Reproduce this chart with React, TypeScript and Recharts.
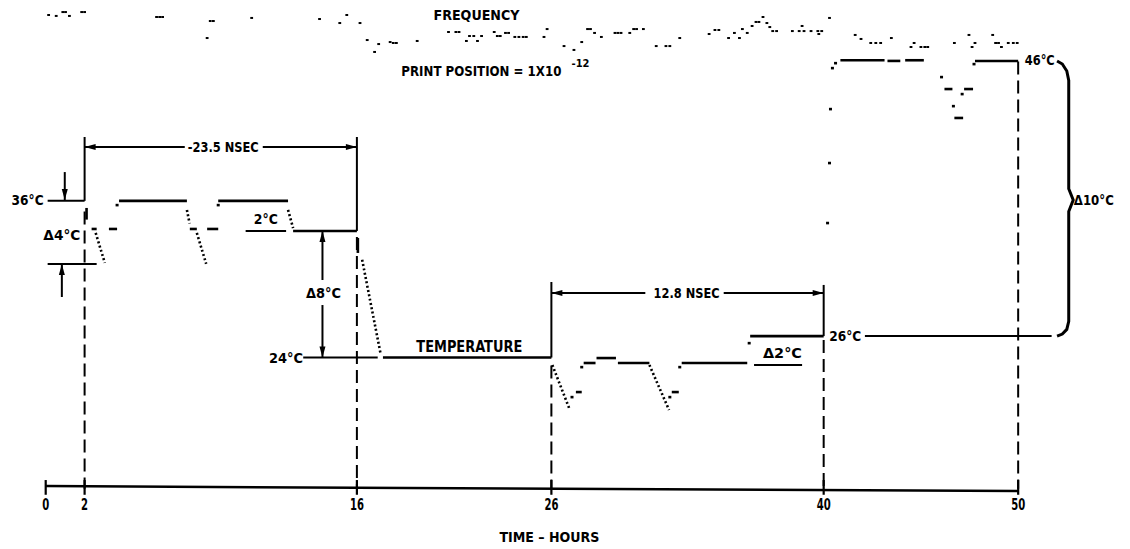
import React from 'react';
import { ComposedChart, XAxis, YAxis, ReferenceLine, Scatter, Line } from 'recharts';

// ---------- data (time in hours, level in °C as drawn) ----------
const tickHours = [0, 2, 16, 26, 40, 50];
const tickLabels = ['0', '2', '16', '26', '40', '50'];

// temperature trace: solid plateaus / dashes  [t0, T0, t1, T1]
const tempSolid: number[][] = [
  [2.1, 35.47, 2.1, 34.6],
  [2.36, 33.9, 2.62, 33.9],
  [3.25, 33.9, 3.67, 33.9],
  [3.77, 36.0, 7.26, 36.0],
  [7.41, 33.9, 7.77, 33.9],
  [8.3, 33.9, 8.87, 33.9],
  [8.87, 36.0, 12.46, 36.0],
  [12.72, 33.75, 16.0, 33.75],
  [16.05, 33.23, 16.05, 32.11],
  [17.34, 24.3, 26.0, 24.3],
  [27.26, 21.72, 27.56, 21.72],
  [27.66, 23.89, 28.27, 23.89],
  [28.32, 24.26, 29.32, 24.26],
  [29.42, 23.89, 31.04, 23.89],
  [32.19, 21.72, 32.55, 21.72],
  [32.7, 23.89, 36.07, 23.89],
  [36.22, 25.9, 40.0, 25.9],
  [40.86, 46.5, 43.13, 46.5],
  [43.28, 46.45, 43.94, 46.45],
  [44.19, 46.5, 45.15, 46.5],
  [46.21, 44.35, 46.62, 44.35],
  [47.22, 44.35, 47.68, 44.35],
  [46.72, 42.19, 47.17, 42.19],
  [47.78, 46.45, 50.0, 46.45],
];

// temperature trace: dotted transitions [t0, T0, t1, T1]
const tempDotted: number[][] = [
  [2.57, 33.6, 3.04, 31.36],
  [7.26, 35.32, 7.4, 34.3],
  [7.77, 33.6, 8.25, 31.3],
  [12.46, 35.32, 12.72, 33.97],
  [16.27, 31.6, 17.23, 24.5],
  [26.05, 23.74, 26.91, 20.53],
  [31.04, 23.74, 32.05, 20.38],
];

// temperature trace: isolated print dots [t, T]
const tempDots: number[][] = [
  [3.67, 35.69], [8.87, 35.69], [27.06, 21.35], [27.56, 23.59], [32.09, 21.35],
  [32.6, 23.59], [36.17, 25.38], [40.2, 34.35], [40.3, 38.83], [40.35, 42.86],
  [40.45, 45.92], [40.61, 46.29], [46.06, 45.25], [47.12, 43.98], [46.67, 43.08],
  [47.73, 46.22],
];

// frequency trace print dots [t, level]
const freqDots: number[][] = [
  [0.15, 49.88], [0.54, 49.81], [0.88, 50.1], [1.02, 50.1], [1.22, 49.81], [1.85, 50.1], [2.0, 50.1],
  [5.7, 49.73], [5.86, 49.73], [6.01, 49.73], [8.3, 48.16], [8.46, 49.43], [8.62, 49.43],
  [10.59, 49.66], [14.08, 49.58], [15.12, 49.28], [15.48, 49.88], [16.16, 49.28], [16.53, 48.01],
  [16.91, 47.12], [17.12, 47.71], [17.71, 47.86], [17.87, 47.79], [18.03, 47.79], [19.1, 47.94],
  [20.71, 48.61], [21.09, 48.61], [21.25, 48.61], [21.63, 47.94], [21.79, 48.31], [22.01, 48.31],
  [22.2, 47.94], [22.41, 48.31], [23.06, 48.61], [23.22, 48.31], [23.37, 48.31], [23.64, 48.54],
  [23.8, 48.54], [24.12, 48.24], [24.33, 48.24], [24.55, 48.24], [24.71, 48.24], [25.62, 48.24],
  [25.78, 48.83], [26.65, 47.56], [27.16, 47.27], [27.56, 47.86], [27.86, 48.83], [28.01, 48.83],
  [28.22, 48.54], [28.57, 48.24], [29.27, 48.54], [29.42, 48.54], [29.58, 48.54], [30.03, 48.54],
  [30.23, 48.83], [30.38, 48.83], [30.73, 48.83], [31.39, 47.56], [31.89, 47.56], [32.09, 47.56],
  [32.6, 48.16], [34.11, 48.46], [34.41, 48.76], [34.61, 48.76], [35.11, 48.16], [35.41, 48.54],
  [35.67, 48.16], [35.82, 48.83], [36.07, 48.54], [36.32, 49.06], [36.52, 49.36], [36.67, 49.36],
  [36.88, 49.73], [37.08, 49.28], [37.23, 48.98], [37.38, 48.68], [37.58, 48.68], [38.39, 48.68],
  [38.74, 48.68], [38.89, 49.06], [38.99, 48.68], [39.35, 48.68], [39.7, 48.68], [39.75, 48.46],
  [39.9, 48.68], [40.3, 49.66], [41.62, 48.39], [41.92, 48.09], [42.42, 47.79], [42.68, 47.79],
  [42.93, 47.79], [43.48, 48.16], [44.49, 47.49], [44.65, 47.79], [45.0, 47.49], [45.2, 47.49],
  [45.35, 47.49], [46.72, 47.79], [47.47, 48.39], [47.63, 47.49], [47.78, 47.79], [48.69, 48.39],
  [48.84, 47.79], [48.99, 47.79], [49.14, 47.49], [49.49, 47.79], [49.75, 47.79], [49.95, 47.79],
];

// dimension / marker lines [t0, T0, t1, T1]
const dimLines: number[][] = [
  [0.1, 36.0, 2.0, 36.0],
  [0.1, 31.28, 2.62, 31.28],
  [10.28, 33.75, 12.36, 33.75],
  [13.24, 24.3, 17.07, 24.3],
  [2.0, 40.02, 7.15, 40.02],
  [11.16, 40.02, 16.0, 40.02],
  [26.0, 29.12, 30.83, 29.12],
  [34.86, 29.12, 40.0, 29.12],
  [36.42, 23.74, 38.89, 23.74],
  [42.12, 25.9, 51.72, 25.9],
  [0.98, 38.15, 0.98, 36.06],
  [0.83, 28.82, 0.83, 31.28],
  [14.23, 33.75, 14.23, 30.09],
  [14.23, 28.22, 14.23, 24.3],
  [2.0, 40.77, 2.0, 36.0],
  [16.0, 40.77, 16.0, 33.75],
  [26.0, 29.94, 26.0, 24.3],
  [40.0, 29.72, 40.0, 25.9],
];

// dashed hour guides [t, Ttop, Tbottom]
const guideDashed: number[][] = [
  [2, 35.2, 14.5],
  [16, 33.3, 14.5],
  [26, 23.7, 14.5],
  [40, 25.6, 14.5],
  [50, 46.4, 14.5],
];

// arrow heads [t, T, direction]
const arrowHeads: [number, number, string][] = [
  [2.0, 40.02, 'left'],
  [16.0, 40.02, 'right'],
  [26.0, 29.12, 'left'],
  [40.0, 29.12, 'right'],
  [0.98, 36.06, 'down'],
  [0.83, 31.28, 'up'],
  [14.23, 33.75, 'up'],
  [14.23, 24.3, 'down'],
];

// Δ10°C brace
const brace = [
  { t: 52.0, T: 46.45 }, { t: 52.27, T: 46.22 }, { t: 52.5, T: 45.7 }, { t: 52.6, T: 45.0 },
  { t: 52.6, T: 36.9 }, { t: 52.83, T: 36.06 }, { t: 52.6, T: 35.2 }, { t: 52.6, T: 27.0 },
  { t: 52.5, T: 26.4 }, { t: 52.27, T: 26.05 }, { t: 52.0, T: 25.9 },
];

// annotation texts [text, t, T]
const annotations: [string, number, number][] = [
  ['FREQUENCY', 22.15, 49.88],
  ['PRINT POSITION = 1X10', 22.4, 45.73],
  ['-12', 27.5, 46.3],
  ['-23.5 NSEC', 9.13, 40.02],
  ['36°C', -0.93, 36.06],
  ['Δ4°C', 0.83, 33.45],
  ['2°C', 11.32, 34.64],
  ['Δ8°C', 14.28, 29.12],
  ['24°C', 12.36, 24.3],
  ['TEMPERATURE', 21.78, 25.09],
  ['12.8 NSEC', 32.95, 29.12],
  ['Δ2°C', 37.88, 24.64],
  ['26°C', 41.11, 25.91],
  ['46°C', 51.11, 46.52],
  ['Δ10°C', 53.89, 36.06],
  ['TIME – HOURS', 25.9, 10.9],
];

// ---------- styling ----------
const FONT = "'DejaVu Sans Condensed', 'Liberation Sans Narrow', 'DejaVu Sans', sans-serif";
const textWidth: Record<string, number> = {
  'FREQUENCY': 86, 'PRINT POSITION = 1X10': 160, '-12': 18, '-23.5 NSEC': 71,
  '36°C': 32, 'Δ4°C': 37, '2°C': 24, 'Δ8°C': 35, '24°C': 34, 'TEMPERATURE': 106,
  '12.8 NSEC': 66, 'Δ2°C': 39, '26°C': 32, '46°C': 30, 'Δ10°C': 40, 'TIME – HOURS': 100,
};
const textSize: Record<string, number> = { '-12': 11, 'TEMPERATURE': 15 };

const TextShape = (p: any) => {
  const s = p.payload.text as string;
  const fs = textSize[s] ?? 14;
  return (
    <text x={p.cx} y={p.cy} dy={fs * 0.36} textAnchor="middle" fontFamily={FONT}
      fontWeight={700} fontSize={fs} fill="#000" textLength={textWidth[s]}
      lengthAdjust="spacingAndGlyphs">{s}</text>
  );
};

const TickShape = (p: any) => {
  const s = p.payload.text as string;
  return (
    <text x={p.cx} y={p.cy} dy={5.5} textAnchor="middle" fontFamily={FONT}
      fontWeight={700} fontSize={15} fill="#000" textLength={s.length * 7}
      lengthAdjust="spacingAndGlyphs">{s}</text>
  );
};

const DotShape = (p: any) => <rect x={p.cx - 1.5} y={p.cy - 1.2} width={3} height={2.6} fill="#000" />;
const FreqDot = (p: any) => <rect x={p.cx - 1.4} y={p.cy - 1} width={2.8} height={2} fill="#000" />;

const ArrowShape = (p: any) => {
  const { cx, cy } = p;
  const d = p.payload.dir;
  const L = 11, W = 3;
  let pts = '';
  if (d === 'left') pts = `${cx},${cy} ${cx + L},${cy - W} ${cx + L},${cy + W}`;
  if (d === 'right') pts = `${cx},${cy} ${cx - L},${cy - W} ${cx - L},${cy + W}`;
  if (d === 'up') pts = `${cx},${cy} ${cx - W},${cy + L} ${cx + W},${cy + L}`;
  if (d === 'down') pts = `${cx},${cy} ${cx - W},${cy - L} ${cx + W},${cy - L}`;
  return <polygon points={pts} fill="#000" />;
};

const segLine = (s: number[], key: string, extra: any) => (
  <ReferenceLine key={key} segment={[{ x: s[0], y: s[1] }, { x: s[2], y: s[3] }]}
    stroke="#000" ifOverflow="visible" {...extra} />
);

export default function App() {
  return (
    <div style={{ position: 'absolute', left: 0, top: 0, width: 1130, height: 549, background: '#fff' }}>
      <ComposedChart width={1130} height={549} margin={{ top: 0, right: 0, bottom: 0, left: 0 }}>
        <XAxis type="number" dataKey="t" domain={[-2.35, 55.75]} allowDataOverflow hide />
        <YAxis type="number" dataKey="T" domain={[10, 51]} allowDataOverflow hide />

        {/* time axis */}
        {segLine([0, 14.7, 50, 14.33], 'axis', { strokeWidth: 2.5 })}
        {tickHours.map((h, i) => segLine([h, 15.15, h, 14.05], 'tk' + i, { strokeWidth: 2.2 }))}

        {guideDashed.map((g, i) => segLine([g[0], g[1], g[0], g[2]], 'gd' + i, { strokeWidth: 2, strokeDasharray: '13 6' }))}
        {dimLines.map((s, i) => segLine(s, 'dl' + i, { strokeWidth: 2 }))}
        {tempSolid.map((s, i) => segLine(s, 'ts' + i, { strokeWidth: 2.6 }))}
        {tempDotted.map((s, i) => segLine(s, 'td' + i, { strokeWidth: 2.6, strokeDasharray: '2 2.4' }))}

        <Line data={brace} dataKey="T" type="linear" stroke="#000" strokeWidth={3} dot={false} isAnimationActive={false} />

        <Scatter data={tempDots.map(([t, T]) => ({ t, T }))} shape={DotShape} isAnimationActive={false} />
        <Scatter data={freqDots.map(([t, T]) => ({ t, T }))} shape={FreqDot} isAnimationActive={false} />
        <Scatter data={arrowHeads.map(([t, T, dir]) => ({ t, T, dir }))} shape={ArrowShape} isAnimationActive={false} />
        <Scatter data={annotations.map(([text, t, T]) => ({ text, t, T }))} shape={TextShape} isAnimationActive={false} />
        <Scatter data={tickHours.map((t, i) => ({ t, T: 13.35, text: tickLabels[i] }))} shape={TickShape} isAnimationActive={false} />
      </ComposedChart>
    </div>
  );
}
